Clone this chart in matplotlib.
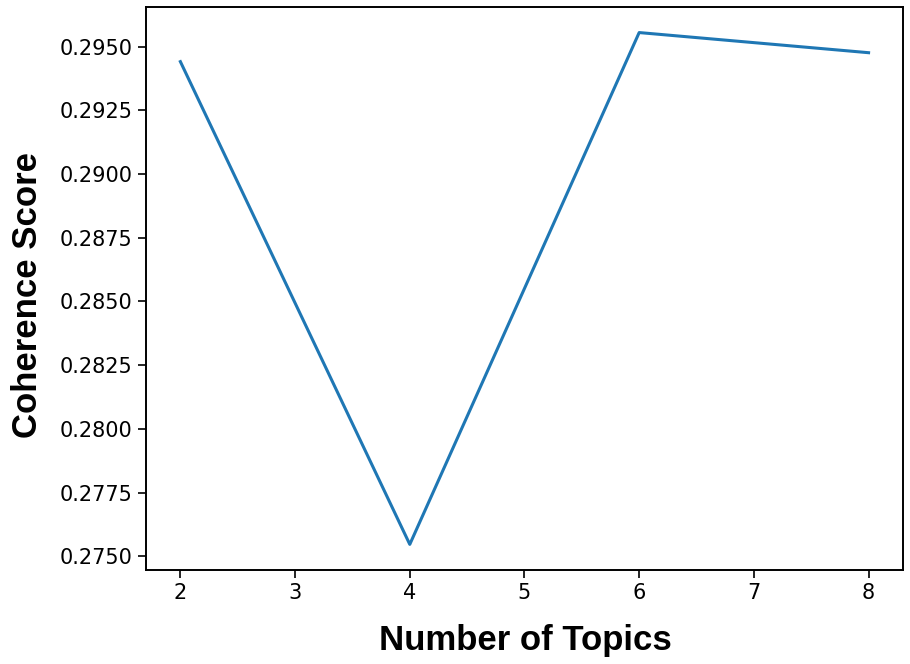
import matplotlib
matplotlib.use('Agg')
import matplotlib.pyplot as plt

# topics vs coherence
num_topics = [2, 4, 6, 8]
coherence = [0.29441, 0.27547, 0.29555, 0.29476]

fig = plt.figure(figsize=(9.1, 6.64), dpi=100)
ax = fig.add_axes([0.1604, 0.1416, 0.8319, 0.8479])
ax.plot(num_topics, coherence, color='#1f77b4', linewidth=2.2)

ax.tick_params(labelsize=15, length=6, width=1.2)
for s in ax.spines.values():
    s.set_linewidth(1.4)

fig.text(0.577, 0.036, 'Number of Topics', fontsize=25, fontweight='bold',
         family='Liberation Sans', ha='center', va='center')
fig.text(0.030, 0.555, 'Coherence Score', fontsize=25, fontweight='bold',
         family='Liberation Sans', ha='center', va='center', rotation=90)

fig.savefig('out.png', dpi=100)
